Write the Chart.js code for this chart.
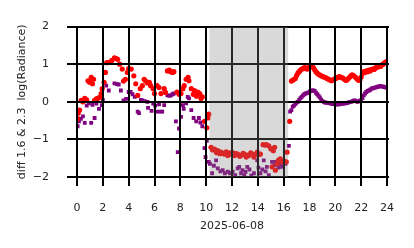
<!DOCTYPE html>
<html><head><meta charset="utf-8">
<script src="https://cdn.jsdelivr.net/npm/chart.js@4"></script>
<style>html,body{margin:0;padding:0;background:#fff}canvas{display:block}</style>
</head><body>
<canvas id="c" width="414" height="248"></canvas>
<script>
const redHours = [0.05,0.1,0.2,0.33,0.45,0.6,0.75,0.85,0.97,1.1,1.2,1.28,1.36,1.5,1.6,1.75,1.87,1.95,2.1,2.2,2.3,2.5,2.7,2.9,3.05,3.15,3.3,3.5,3.6,3.75,3.9,4.0,4.2,4.4,4.55,4.7,4.9,5.06,5.2,5.3,5.45,5.6,5.7,5.9,6.0,6.2,6.35,6.5,6.75,6.85,7.0,7.15,7.27,7.4,7.5,7.74,7.9,8.05,8.2,8.3,8.45,8.6,8.67,8.85,9.0,9.1,9.25,9.36,9.5,9.6,9.7,9.87,10.05,10.13,10.2,10.38,10.5,10.64,10.8,10.9,11.05,11.15,11.3,11.4,11.55,11.67,11.8,11.9,12.05,12.2,12.3,12.44,12.6,12.7,12.85,12.95,13.1,13.2,13.3,13.45,13.56,13.7,13.8,13.95,14.1,14.2,14.4,14.55,14.67,14.85,15.0,15.1,15.2,15.3,15.36,15.5,15.6,15.74,15.9,16.05,16.2,16.26,16.46,16.6,16.7,16.8,16.9,17.0,17.1,17.2,17.3,17.4,17.5,17.6,17.7,17.8,17.9,18.0,18.1,18.2,18.3,18.4,18.5,18.6,18.7,18.8,18.9,19.0,19.1,19.2,19.3,19.4,19.5,19.6,19.7,19.8,19.9,20.0,20.1,20.2,20.3,20.4,20.5,20.6,20.7,20.8,20.9,21.0,21.1,21.2,21.3,21.4,21.5,21.6,21.7,21.8,21.9,22.0,22.1,22.2,22.3,22.4,22.5,22.6,22.7,22.8,22.9,23.0,23.1,23.2,23.3,23.4,23.5,23.6,23.7,23.8,23.9];
const redDiff = [-0.45,-0.3,-0.22,0.04,0.0,0.09,0.05,0.56,0.52,0.65,0.48,0.6,0.04,0.08,0.09,0.12,0.22,0.35,0.52,0.78,1.04,1.05,1.1,1.17,1.15,1.13,1.0,0.87,0.55,0.6,0.78,0.88,0.87,0.69,0.48,0.17,0.35,0.43,0.6,0.56,0.5,0.52,0.43,0.35,0.22,0.43,0.38,0.22,0.35,0.25,0.82,0.84,0.8,0.78,0.8,0.26,0.2,0.22,0.35,0.43,0.6,0.65,0.56,0.35,0.2,0.3,0.15,0.26,0.22,0.09,0.13,-0.52,-0.69,-0.43,-0.33,-1.21,-1.28,-1.26,-1.35,-1.3,-1.38,-1.34,-1.37,-1.39,-1.33,-1.43,-1.36,-1.39,-1.35,-1.43,-1.38,-1.39,-1.45,-1.43,-1.37,-1.39,-1.47,-1.42,-1.43,-1.36,-1.39,-1.47,-1.4,-1.34,-1.4,-1.39,-1.14,-1.15,-1.14,-1.17,-1.25,-1.73,-1.3,-1.21,-1.82,-1.65,-1.55,-1.52,-1.6,-1.58,-1.6,-1.34,-0.52,0.55,0.57,0.6,0.62,0.7,0.76,0.8,0.84,0.87,0.88,0.91,0.9,0.87,0.88,0.93,0.95,0.93,0.91,0.85,0.8,0.76,0.73,0.71,0.69,0.68,0.66,0.65,0.63,0.61,0.6,0.58,0.56,0.58,0.6,0.62,0.63,0.65,0.67,0.66,0.64,0.63,0.6,0.57,0.58,0.62,0.65,0.69,0.72,0.7,0.67,0.64,0.6,0.57,0.58,0.66,0.75,0.8,0.78,0.82,0.8,0.84,0.82,0.86,0.87,0.86,0.9,0.91,0.93,0.95,0.94,0.98,1.0,1.03,1.06];
const purpleHours = [0.05,0.15,0.3,0.46,0.6,0.75,0.92,1.1,1.2,1.36,1.5,1.7,1.92,2.0,2.26,2.46,2.9,3.1,3.23,3.4,3.6,3.8,4.0,4.15,4.3,4.47,4.7,4.8,4.95,5.06,5.25,5.45,5.5,5.77,5.9,6.05,6.2,6.35,6.45,6.6,6.75,7.0,7.15,7.27,7.4,7.5,7.66,7.8,7.9,8.05,8.2,8.26,8.45,8.57,8.67,8.85,9.03,9.23,9.44,9.55,9.7,9.87,9.95,10.05,10.2,10.3,10.46,10.6,10.77,10.9,11.1,11.28,11.45,11.67,11.85,12.05,12.25,12.44,12.56,12.7,12.8,12.95,13.05,13.18,13.35,13.5,13.7,13.95,14.05,14.2,14.35,14.46,14.6,14.7,14.85,15.1,15.28,15.4,15.5,15.6,15.74,15.87,16.0,16.13,16.4,16.5,16.6,16.7,16.8,16.9,17.0,17.1,17.2,17.3,17.4,17.5,17.6,17.7,17.8,17.9,18.0,18.1,18.2,18.3,18.4,18.5,18.6,18.7,18.8,18.9,19.0,19.1,19.2,19.3,19.4,19.5,19.6,19.7,19.8,19.9,20.0,20.1,20.2,20.3,20.4,20.5,20.6,20.7,20.8,20.9,21.0,21.1,21.2,21.3,21.4,21.5,21.6,21.7,21.8,21.9,22.0,22.1,22.2,22.3,22.4,22.5,22.6,22.7,22.8,22.9,23.0,23.1,23.2,23.3,23.4,23.5,23.6,23.7,23.8,23.9];
const purpleDiff = [-0.65,-0.52,-0.45,-0.39,-0.56,-0.1,-0.04,-0.56,-0.08,-0.43,-0.05,-0.19,-0.09,0.05,0.43,0.3,0.49,0.47,0.46,0.3,0.04,0.08,0.26,0.26,0.2,0.13,-0.26,-0.3,0.05,0.04,0.02,0.0,-0.16,-0.24,-0.05,-0.1,-0.26,-0.07,-0.26,-0.26,-0.09,0.17,0.16,0.17,0.2,0.22,-0.52,-1.34,-0.71,-0.4,-0.09,-0.19,-0.04,0.13,0.09,-0.22,-0.43,-0.52,-0.43,-0.55,-0.65,-1.23,-1.47,-1.04,-1.6,-1.65,-1.9,-1.7,-1.56,-1.77,-1.85,-1.82,-1.9,-1.86,-1.9,-1.86,-1.95,-1.77,-1.73,-1.9,-1.82,-1.95,-1.86,-1.73,-1.8,-1.96,-1.9,-1.56,-1.75,-1.9,-1.8,-1.56,-1.85,-1.73,-1.95,-1.6,-1.69,-1.6,-1.65,-1.75,-1.65,-1.73,-1.62,-1.65,-1.17,-0.26,-0.22,-0.13,-0.1,-0.06,-0.02,0.0,0.05,0.1,0.13,0.17,0.2,0.22,0.23,0.24,0.27,0.29,0.3,0.3,0.29,0.24,0.2,0.16,0.12,0.06,0.02,0.0,-0.02,-0.02,-0.03,-0.03,-0.04,-0.05,-0.06,-0.06,-0.07,-0.07,-0.07,-0.07,-0.06,-0.05,-0.05,-0.04,-0.04,-0.03,-0.02,-0.01,0.0,0.01,0.03,0.04,0.02,0.0,0.01,0.03,0.04,0.1,0.17,0.22,0.26,0.29,0.3,0.32,0.35,0.36,0.37,0.38,0.39,0.4,0.41,0.42,0.41,0.4,0.39,0.38];
const xTicks = [0,2,4,6,8,10,12,14,16,18,20,22,24];
const yTicks = [-2,-1,0,1,2];
const shadeStart = 10.25, shadeEnd = 16.35;
const xTitle = '2025-06-08';
const yTitle = 'diff 1.6 & 2.3  log(Radiance)';

const toPts = (xs, ys) => xs.map((x, i) => ({x, y: ys[i]}));
const FONT = 'DejaVu Sans';
const X_TICK_LEN = 9, Y_TICK_LEN = 10;

const overlayPlugin = {
  id: 'overlay',
  afterDraw(chart) {
    const ctx = chart.ctx;
    const a = chart.chartArea;
    const sx = chart.scales.x, sy = chart.scales.y;
    const top = Math.round(a.top), bottom = Math.round(a.bottom);
    const left = Math.round(a.left), right = Math.round(a.right);
    ctx.save();
    ctx.globalCompositeOperation = 'source-over';
    ctx.globalAlpha = 1;
    ctx.fillStyle = 'rgb(0,0,0)';
    for (let i = 0; i < xTicks.length; i++) {
      const px = Math.round(Number(sx.getPixelForValue(xTicks[i])));
      ctx.fillRect(px - 1, top - 1, 2, bottom - top + 1 + X_TICK_LEN);
    }
    for (let i = 0; i < yTicks.length; i++) {
      const py = Math.round(Number(sy.getPixelForValue(yTicks[i])));
      ctx.fillRect(left - Y_TICK_LEN, py - 1, right - left + Y_TICK_LEN + 2, 2);
    }
    const x0 = sx.getPixelForValue(shadeStart);
    const x1 = sx.getPixelForValue(shadeEnd);
    ctx.fillStyle = 'rgba(128,128,128,0.3)';
    ctx.fillRect(x0, top, x1 - x0, bottom - top);
    ctx.restore();
  }
};

new Chart(document.getElementById('c'), {
  type: 'scatter',
  data: {
    datasets: [
      {data: toPts(redHours, redDiff), backgroundColor: '#ff0000', borderWidth: 0, pointStyle: 'circle', pointRadius: 2.6},
      {data: toPts(purpleHours, purpleDiff), backgroundColor: '#800080', borderWidth: 0, pointStyle: 'rect', pointRadius: 2.7}
    ]
  },
  options: {
    responsive: false,
    animation: false,
    events: [],
    layout: {padding: {left: 0, right: 27, top: 22, bottom: 0}},
    plugins: {legend: {display: false}, tooltip: {enabled: false}},
    scales: {
      x: {
        type: 'linear', min: 0, max: 24,
        ticks: {stepSize: 2, color: '#222', font: {family: FONT, size: 11}, padding: 17, maxRotation: 0, autoSkip: false},
        afterFit: s => { s.height = 71; },
        grid: {display: false},
        border: {display: false},
        title: {display: true, text: xTitle, color: '#222', font: {family: FONT, size: 11}, padding: {top: 0, bottom: 15}}
      },
      y: {
        type: 'linear', min: -2, max: 2,
        afterFit: s => { s.width = 77; },
        grid: {display: false},
        border: {display: false},
        ticks: {stepSize: 1, color: '#222', font: {family: FONT, size: 11}, padding: 20,
          callback: v => v < 0 ? '\u2212' + Math.abs(v) : String(v)},
        title: {display: true, text: yTitle, color: '#222', font: {family: FONT, size: 11}, padding: {top: 16, bottom: 0}}
      }
    }
  },
  plugins: [overlayPlugin]
});
</script>
</body></html>
